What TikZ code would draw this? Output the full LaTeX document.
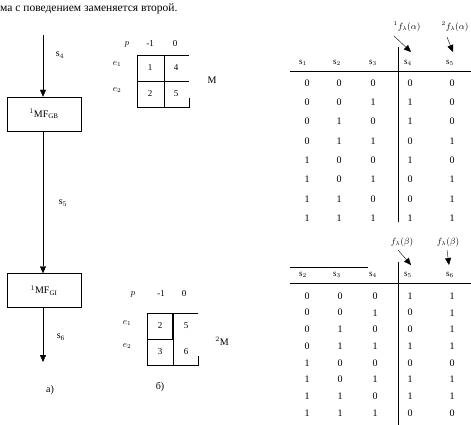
\documentclass[tikz,border=0pt]{standalone}
\usepackage{fontspec}
\setmainfont{Liberation Serif}
\usetikzlibrary{arrows.meta}

\begin{document}
\begin{tikzpicture}[x=1pt, y=-1pt,
    blk/.style={draw, minimum width=74pt, minimum height=34pt, inner sep=0pt, font=\normalsize},
    arr/.style={-{Triangle[length=7pt, width=6pt]}},
    lbl/.style={font=\normalsize, inner sep=1pt},
    cell/.style={font=\small, inner sep=0pt},
    hd/.style={font=\small, inner sep=0pt},
    dig/.style={font=\normalsize, inner sep=0pt},
    fn/.style={font=\small\itshape, inner sep=0pt}
]
\useasboundingbox (0,0) rectangle (471,425);

\node[anchor=base west, font=\fontsize{11.5}{13}\selectfont, inner sep=0pt] (txt) at (0,12) {ма с поведением заменяется второй.};

% a) block chain
\coordinate (in) at (43,35);
\node[blk] (mfa) at (44,114) {$^{1}$MF$_{\mathrm{GB}}$};
\node[blk] (mfb) at (44,290.5) {$^{1}$MF$_{\mathrm{GI}}$};
\coordinate (out) at (43,362);
\draw[arr] (in) -- (in |- mfa.north);
\draw[arr] (mfa.south -| in) -- (mfb.north -| in);
\draw[arr] (mfb.south -| in) -- (out);
\node[lbl] (s4) at (60,55) {s$_4$};
\node[lbl] (s5) at (63,203) {s$_5$};
\node[lbl] (s6) at (61,337) {s$_6$};
\node[lbl] (capa) at (50,390) {a)};

% matrix M
\draw (137,55) rectangle (164,107);
\draw (137,81) -- (189,81);
\draw (164,55) -- (189,55);
\draw (137,107) -- (189,107) -- (189,98);
\node[hd] (ma-p) at (127,44) {$p$};
\node[hd] (ma-c1) at (150,44) {-1};
\node[hd] (ma-c2) at (175,44) {0};
\node[hd] (ma-r1) at (117,64) {$e_1$};
\node[hd] (ma-r2) at (117,90) {$e_2$};
\node[cell] (ma-11) at (150,68) {1};
\node[cell] (ma-12) at (176,68) {4};
\node[cell] (ma-21) at (150,94) {2};
\node[cell] (ma-22) at (176,94) {5};
\node[lbl] (mname) at (212,80) {M};

% matrix 2M
\draw (147,313) rectangle (173,365);
\draw (147,339) -- (173,339);
\draw[line width=1.2pt] (173,313) -- (173,339);
\draw (173,313) -- (198,313);
\draw (147,365) -- (198,365) -- (198,356);
\node[hd] (mb-p) at (133,294) {$p$};
\node[hd] (mb-c1) at (161,294) {-1};
\node[hd] (mb-c2) at (184,294) {0};
\node[hd] (mb-r1) at (127,323) {$e_1$};
\node[hd] (mb-r2) at (127,346) {$e_2$};
\node[cell] (mb-11) at (160,326) {2};
\node[cell] (mb-12) at (186,326) {5};
\node[cell] (mb-21) at (160,352) {3};
\node[cell] (mb-22) at (186,352) {6};
\node[lbl] (mbname) at (222,341) {$^{2}$M};
\node[lbl] (capb) at (160,387) {б)};

% table 1
\draw (290,71) -- (471,71);
\draw (398,47) -- (398,222);
\foreach \n/\x in {1/303, 2/337, 3/373, 4/408, 5/450}
  \node[hd] (ha-\n) at (\x,63) {s$_\n$};
\foreach \a/\b/\c/\d/\e [count=\i] in {0/0/0/0/0, 0/0/1/1/0, 0/1/0/1/0, 0/1/1/0/1,
    1/0/0/1/0, 1/0/1/0/1, 1/1/0/0/1, 1/1/1/1/1} {
  \node[dig] (ta-\i-1) at (307,{63.7+19.3*\i}) {\a};
  \node[dig] (ta-\i-2) at (339,{63.7+19.3*\i}) {\b};
  \node[dig] (ta-\i-3) at (373,{63.7+19.3*\i}) {\c};
  \node[dig] (ta-\i-4) at (410,{63.7+19.3*\i}) {\d};
  \node[dig] (ta-\i-5) at (452,{63.7+19.3*\i}) {\e};
}
\node[fn] (fa1) at (407,27) {$^{1}f_{\lambda}(\alpha)$};
\node[fn] (fa2) at (455,27) {$^{2}f_{\lambda}(\alpha)$};
\coordinate (fa1t) at (394,36);
\coordinate (fa2t) at (447,37);
\draw[arr] (fa1t) -- (411,52);
\draw[arr] (fa2t) -- (453,52);

% table 2
\draw (290,267) -- (368,267);
\draw (290,283) -- (471,283);
\draw (398,262) -- (398,425);
\foreach \n/\x in {2/303, 3/337, 4/373, 5/408, 6/450}
  \node[hd] (hb-\n) at (\x,275) {s$_\n$};
\foreach \a/\b/\c/\d/\e [count=\i] in {0/0/0/1/1, 0/0/1/0/1, 0/1/0/0/1, 0/1/1/1/1,
    1/0/0/0/0, 1/0/1/1/1, 1/1/0/1/1, 1/1/1/0/0} {
  \node[dig] (tb-\i-1) at (307,{279.3+16.7*\i}) {\a};
  \node[dig] (tb-\i-2) at (340,{279.3+16.7*\i}) {\b};
  \node[dig] (tb-\i-3) at (375,{279.3+16.7*\i}) {\c};
  \node[dig] (tb-\i-4) at (410,{279.3+16.7*\i}) {\d};
  \node[dig] (tb-\i-5) at (452,{279.3+16.7*\i}) {\e};
}
\node[fn] (fb1) at (402,242) {$f_{\lambda}(\beta)$};
\node[fn] (fb2) at (448,242) {$f_{\lambda}(\beta)$};
\coordinate (fb1t) at (398,250);
\coordinate (fb2t) at (447,250);
\draw[arr] (fb1t) -- (411,265);
\draw[arr] (fb2t) -- (449,265);
\end{tikzpicture}
\end{document}
